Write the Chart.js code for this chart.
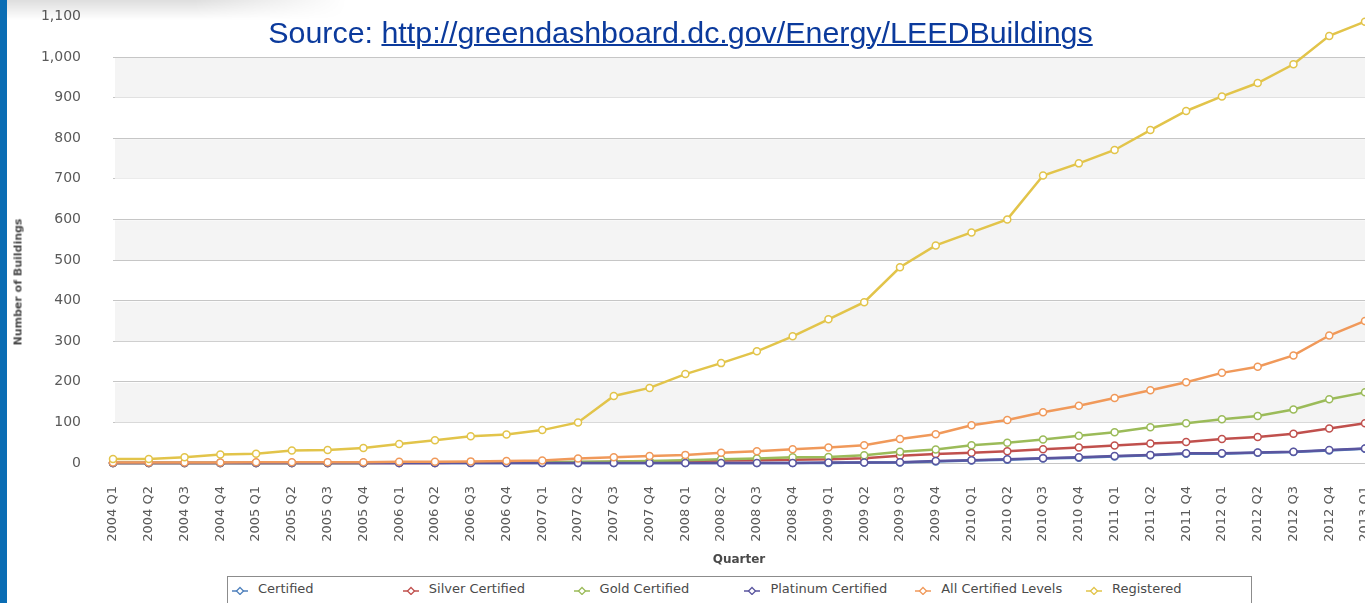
<!DOCTYPE html>
<html><head><meta charset="utf-8">
<script src="https://cdn.jsdelivr.net/npm/chart.js@4.4.1/dist/chart.umd.min.js"></script>
<style>
html,body{margin:0;padding:0;width:1365px;height:603px;overflow:hidden;background:#fff;}
#wrap{position:absolute;left:0;top:-24px;width:1375px;height:627px;}
#strip{position:absolute;left:0;top:0;width:7px;height:603px;background:#0a6db4;z-index:5;}
#shade{position:absolute;left:7px;top:0;width:340px;height:20px;z-index:4;
  background:linear-gradient(to bottom,rgba(0,0,0,0.13),rgba(0,0,0,0));
  -webkit-mask-image:linear-gradient(to right,#000 55%,transparent);mask-image:linear-gradient(to right,#000 55%,transparent);}
#source{position:absolute;left:0;width:1361px;top:15px;text-align:center;font-family:"Liberation Sans",Arial,sans-serif;font-size:30.4px;color:#0b3a9c;z-index:4;white-space:nowrap;}
#source a{color:#0b3a9c;text-decoration:underline;text-decoration-thickness:2px;}
#ytitle{position:absolute;left:18px;top:282px;transform:translate(-50%,-50%) rotate(-90deg);font-family:"DejaVu Sans",Verdana,sans-serif;font-weight:bold;font-size:11px;color:#4a4a4a;white-space:nowrap;}
#legend{position:absolute;left:227px;top:576px;width:1025px;height:40px;border:1px solid #8c8c8c;background:#fff;box-sizing:border-box;}
.li{position:absolute;top:4px;font-family:"DejaVu Sans",Verdana,sans-serif;font-size:13px;color:#4a4a4a;white-space:nowrap;}
.li svg{position:absolute;left:0;top:4px;}
.li span{position:absolute;left:26px;top:0;}
</style></head>
<body>
<div id="wrap"><canvas id="c"></canvas></div>
<div id="strip"></div>
<div id="shade"></div>
<div id="source">Source: <a>http://greendashboard.dc.gov/Energy/LEEDBuildings</a></div>
<div id="ytitle">Number of Buildings</div>
<div id="legend"></div>
<script>
const quarters = ["2004 Q1","2004 Q2","2004 Q3","2004 Q4","2005 Q1","2005 Q2","2005 Q3","2005 Q4",
  "2006 Q1","2006 Q2","2006 Q3","2006 Q4","2007 Q1","2007 Q2","2007 Q3","2007 Q4",
  "2008 Q1","2008 Q2","2008 Q3","2008 Q4","2009 Q1","2009 Q2","2009 Q3","2009 Q4",
  "2010 Q1","2010 Q2","2010 Q3","2010 Q4","2011 Q1","2011 Q2","2011 Q4",
  "2012 Q1","2012 Q2","2012 Q3","2012 Q4","2013 Q1"];
const certified    = [0,0,0,0, 0,0,0,0, 0,0,0,0, 0,0,0,0, 0,0,0,0, 0,1,1,4, 6,8,11,13, 16,19,23, 23,25,27,31, 35];
const silver       = [0,0,0,0, 0,0,0,0, 0,0,1,1, 1,2,3,4, 5,6,7,8, 9,12,18,22, 25,29,34,38, 43,48,52, 59,64,72,85, 98];
const gold         = [0,0,0,0, 0,0,0,0, 1,1,1,2, 2,3,4,5, 7,9,11,14, 15,19,28,33, 44,50,58,67, 76,88,98, 108,116,132,157, 174];
const platinum     = [0,0,0,0, 0,0,0,0, 0,0,0,0, 0,0,0,0, 0,0,0,0, 1,1,2,5, 7,9,12,14, 17,20,24, 24,26,28,32, 36];
const allCertified = [1,1,1,1, 2,2,2,2, 3,3,4,5, 6,11,14,17, 20,25,29,34, 38,44,59,71, 93,106,125,141, 160,179,199, 222,237,265,314, 350];
const registered   = [10,10,14,21, 23,31,32,37, 47,56,66,70, 81,100,165,185, 219,246,275,312, 354,396,482,536, 568,600,708,738, 771,820,867, 903,936,982,1052, 1087];
const seriesNames  = ["Certified","Silver Certified","Gold Certified","Platinum Certified","All Certified Levels","Registered"];
const yTicksMax = 1100, yStep = 100;
const bandStarts = [100,300,500,700,900];

const colors = ["#4f81bd","#c0504d","#9bbb59","#5a559f","#f0995a","#e2c44a"];
const seriesData = [certified,silver,gold,platinum,allCertified,registered];

const bandsPlugin = {
  id:'bands',
  beforeDatasetsDraw(chart){
    const {ctx, chartArea:a, scales:{y}} = chart;
    ctx.save();
    ctx.fillStyle = '#f4f4f4';
    bandStarts.forEach(v=>{
      const t = y.getPixelForValue(v+yStep), b = y.getPixelForValue(v);
      ctx.fillRect(a.left+2, t+1, a.right-a.left, b-t-1);
    });
    ctx.restore();
  }
};

const datasets = seriesData.map((d,i)=>({
  label: seriesNames[i],
  data: d,
  borderColor: colors[i],
  backgroundColor: '#ffffff',
  pointBackgroundColor: '#ffffff',
  pointBorderColor: colors[i],
  pointRadius: 3.5,
  pointBorderWidth: 1.5,
  borderWidth: 2.5,
  tension: 0,
  order: 6 - i,
  clip: false
}));

new Chart(document.getElementById('c'), {
  type: 'line',
  data: { labels: quarters, datasets },
  plugins: [bandsPlugin],
  options: {
    responsive: true,
    maintainAspectRatio: false,
    animation: false,
    events: [],
    layout: { padding: { top: 15, right: 10, left: 0, bottom: 0 } },
    plugins: { legend: { display: false }, tooltip: { enabled: false } },
    scales: {
      x: {
        offset: false,
        grid: { display: false, drawTicks: false },
        border: { display: false },
        ticks: { autoSkip: false, maxRotation: 90, minRotation: 90, padding: 23,
                 color: '#5a5a5a', font: { family: 'DejaVu Sans', size: 13 } },
        title: { display: true, text: 'Quarter', color: '#4a4a4a',
                 font: { family: 'DejaVu Sans', size: 12, weight: 'bold' },
                 padding: { top: 0, bottom: 36 } },
        afterFit(s){ s.height = 140; s.paddingLeft = 0; s.paddingRight = 0; }
      },
      y: {
        min: 0, max: yTicksMax,
        grid: { drawTicks: false, lineWidth: 1,
                color: c => (c.tick && c.tick.value === yTicksMax) ? 'rgba(0,0,0,0)' : '#c6c6c6' },
        border: { display: false },
        ticks: { stepSize: yStep, padding: 32, color: '#5a5a5a',
                 font: { family: 'DejaVu Sans', size: 14 } },
        afterFit(s){ s.width = 113; }
      }
    }
  }
});

const legend = document.getElementById('legend');
seriesNames.forEach((n,i)=>{
  const d = document.createElement('div');
  d.className = 'li';
  d.style.left = (4 + i*170.8) + 'px';
  d.innerHTML = '<svg width="16" height="10"><line x1="0" y1="6" x2="16" y2="6" stroke="'+colors[i]+'" stroke-width="1.5"/>'+
    '<path d="M8 2.5 L11.5 6 L8 9.5 L4.5 6 Z" fill="#fff" stroke="'+colors[i]+'" stroke-width="1.3"/></svg><span>'+n+'</span>';
  legend.appendChild(d);
});
</script>
</body></html>
